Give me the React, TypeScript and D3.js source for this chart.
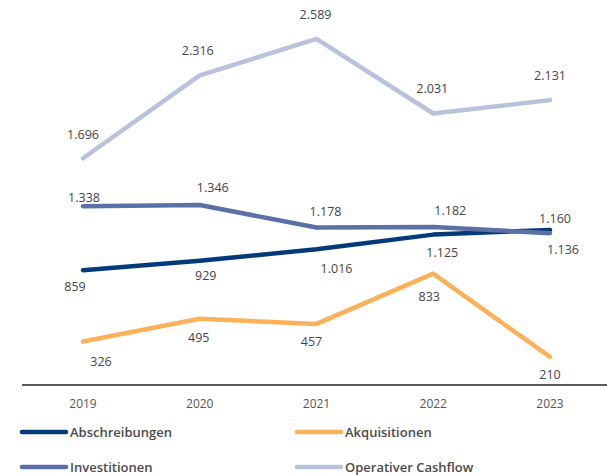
import React from "react";
import * as d3 from "d3";

// values in Mio. (German number formatting in the labels)
const years = ["2019", "2020", "2021", "2022", "2023"];
const abschreibungen = [859, 929, 1016, 1125, 1160];
const investitionen = [1338, 1346, 1178, 1182, 1136];
const akquisitionen = [326, 495, 457, 833, 210];
const operativerCashflow = [1696, 2316, 2589, 2031, 2131];

const seriesNames = ["Operativer Cashflow", "Akquisitionen", "Abschreibungen", "Investitionen"];
const seriesValues = [operativerCashflow, akquisitionen, abschreibungen, investitionen];
const seriesColors = ["#b8c2dc", "#fbb157", "#053a7a", "#5a70a6"];

// label nudges [dx, dy] relative to each point
const labelNudge = [
  [[0, -24], [-2, -25], [-1, -24], [-1, -25], [0, -25]],
  [[18, 20], [-1, 19], [-5, 18], [-4, 23], [0, 18]],
  [[-8, 16], [6, 15], [20, 19], [9, 18], [5, -11]],
  [[1, -9], [13, -18], [9, -16], [17, -16], [13, 16]],
];

const legendRows = [
  ["Abschreibungen", "Akquisitionen"],
  ["Investitionen", "Operativer Cashflow"],
];

const W = 607;
const H = 475;
const baseY = 385;

const fmt = (v: number) => d3.format(",")(v).replace(/,/g, ".");

export default function App() {
  const x = d3.scalePoint<string>().domain(years).range([83, 550]);
  const y = d3.scaleLinear().domain([0, 2880]).range([baseY, 0]);

  const line = d3
    .line<number>()
    .x((_, i) => x(years[i]) as number)
    .y((d) => y(d));

  const colorOf = (name: string) => seriesColors[seriesNames.indexOf(name)];

  return (
    <svg
      width={W}
      height={H}
      style={{ position: "absolute", left: 0, top: 0, background: "#fff" }}
      fontFamily="'Open Sans', 'Noto Sans', sans-serif"
    >
      {seriesValues.map((vals, s) => (
        <path
          key={seriesNames[s]}
          d={line(vals) || ""}
          fill="none"
          stroke={seriesColors[s]}
          strokeWidth={4.5}
          strokeLinejoin="round"
          strokeLinecap="round"
        />
      ))}

      {seriesValues.map((vals, s) =>
        vals.map((v, i) => (
          <text
            key={seriesNames[s] + i}
            x={(x(years[i]) as number) + labelNudge[s][i][0]}
            y={y(v) + labelNudge[s][i][1]}
            textAnchor="middle"
            dominantBaseline="central"
            fontSize={12.5}
            fill="#444"
          >
            {fmt(v)}
          </text>
        ))
      )}

      <line x1={22} x2={W} y1={baseY} y2={baseY} stroke="#222" strokeWidth={1.5} />
      {years.map((yr) => (
        <text
          key={yr}
          x={x(yr)}
          y={403}
          textAnchor="middle"
          dominantBaseline="central"
          fontSize={12}
          fill="#555"
        >
          {yr}
        </text>
      ))}

      {legendRows.map((row, r) =>
        row.map((name, c) => {
          const lx = c === 0 ? 22 : 297;
          const ly = r === 0 ? 432 : 467;
          return (
            <g key={name}>
              <line
                x1={lx}
                x2={lx + 44}
                y1={ly}
                y2={ly}
                stroke={colorOf(name)}
                strokeWidth={4.5}
                strokeLinecap="round"
              />
              <text
                x={lx + 48}
                y={ly}
                dominantBaseline="central"
                fontSize={13}
                fontWeight={600}
                fill="#4a4a4a"
              >
                {name}
              </text>
            </g>
          );
        })
      )}
    </svg>
  );
}
